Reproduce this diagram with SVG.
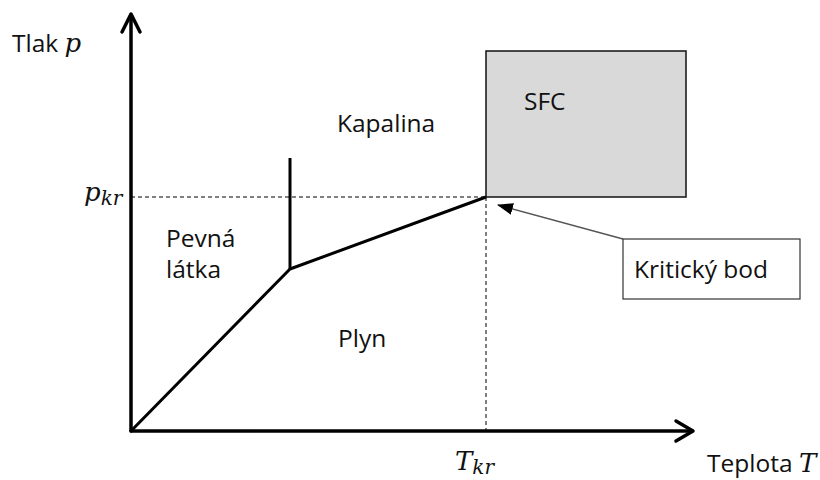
<svg xmlns="http://www.w3.org/2000/svg" width="820" height="480" viewBox="0 0 820 480">
<style>
.lbl{font-family:"Open Sans","Liberation Sans",sans-serif;font-size:24.5px;fill:#111}
.math{font-family:"DejaVu Serif","Liberation Serif",serif;font-style:italic;font-size:26px;fill:#111}
.sub{font-size:20px}
.axis{stroke:#000;stroke-width:3.5;fill:none;stroke-linecap:round;stroke-linejoin:round}
.phase{stroke:#000;stroke-width:3;fill:none;stroke-linejoin:round}
.dash{stroke:#000;stroke-width:1;stroke-dasharray:4,3;fill:none}
</style>
<defs>
<marker id="ah2" viewBox="0 0 16 12" refX="15" refY="6" markerWidth="16" markerHeight="12" markerUnits="userSpaceOnUse" orient="auto">
<path d="M0,0 L16,6 L0,12 z" fill="#000"/>
</marker>
</defs>
<g id="axes">
<line class="axis" x1="131" y1="431" x2="131" y2="15"/>
<polyline class="axis" points="122,32 131,14 140,32"/>
<line class="axis" x1="131" y1="431" x2="692" y2="431"/>
<polyline class="axis" points="676,421 693,431 676,441"/>
</g>
<g id="connectors">
<line class="dash" x1="131" y1="197" x2="486" y2="197"/>
<line class="dash" x1="486" y1="197" x2="486" y2="431"/>
<polyline class="phase" points="131,431 290,269 486,197"/>
<line class="phase" x1="290" y1="269" x2="290" y2="158"/>
<line x1="623" y1="239" x2="498" y2="205" stroke="#555" stroke-width="1.5" marker-end="url(#ah2)"/>
</g>
<g id="sfc">
<rect x="486" y="51" width="200" height="146" fill="#d9d9d9" stroke="#111" stroke-width="1.5"/>
<text class="lbl" x="524" y="110">SFC</text>
</g>
<g id="kriticky-bod">
<rect x="623" y="239" width="177" height="60" fill="#fff" stroke="#333" stroke-width="1.2"/>
<text class="lbl" x="634" y="278">Kritický bod</text>
</g>
<g id="labels">
<text class="lbl" x="12" y="52">Tlak <tspan class="math">p</tspan></text>
<text class="math" x="84" y="201">p<tspan class="sub" dy="4">kr</tspan></text>
<text class="lbl" x="166" y="247">Pevná</text>
<text class="lbl" x="166" y="278">látka</text>
<text class="lbl" x="337" y="132">Kapalina</text>
<text class="lbl" x="338" y="347">Plyn</text>
<text class="math" x="455" y="470">T<tspan class="sub" dy="4">kr</tspan></text>
<text class="lbl" x="707" y="472">Teplota <tspan class="math">T</tspan></text>
</g>
</svg>
